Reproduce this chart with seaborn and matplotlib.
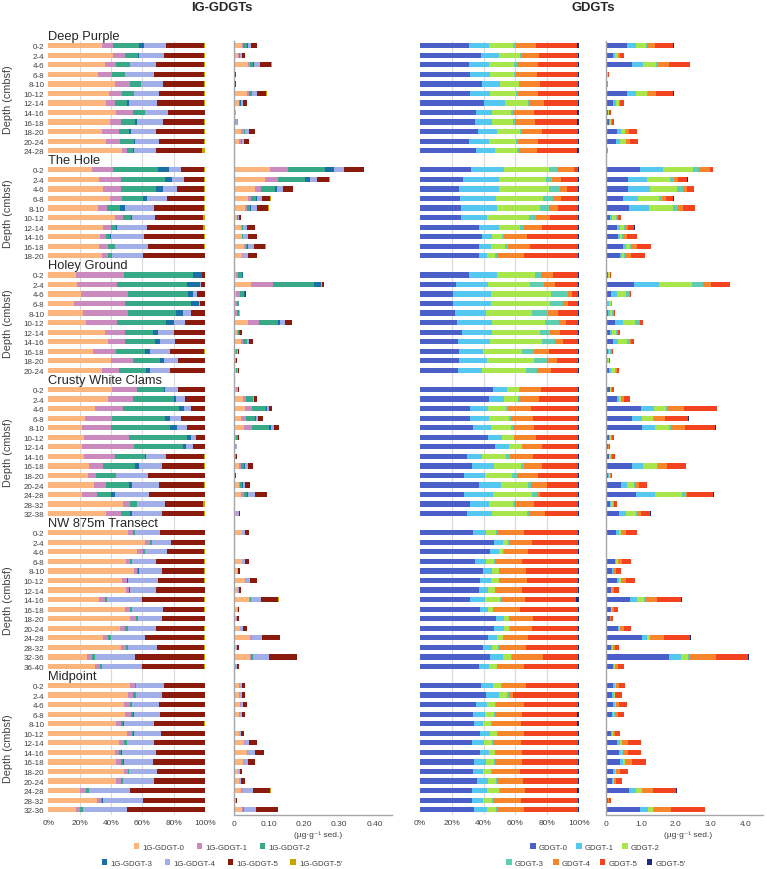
import numpy as np
import matplotlib
matplotlib.use("Agg")
import matplotlib.pyplot as plt
import matplotlib.transforms as mtransforms
from matplotlib.patches import Patch
import seaborn as sns

# ---- data (percent of each compound, plus total in ug/g sed.) ----
IG_NAMES = ["1G-GDGT-0", "1G-GDGT-1", "1G-GDGT-2", "1G-GDGT-3", "1G-GDGT-4", "1G-GDGT-5", "1G-GDGT-5'"]
GD_NAMES = ["GDGT-0", "GDGT-1", "GDGT-2", "GDGT-3", "GDGT-4", "GDGT-5", "GDGT-5'"]
IG_COLORS = ["#FDB57E", "#CB8ABE", "#37A987", "#1A70A5", "#A2AEE8", "#8A1A0C", "#C9A300"]
GD_COLORS = ["#4A60C8", "#55C8F2", "#A8E64B", "#5ECDB1", "#F6852B", "#F4441F", "#1D2C7E"]

DP_DEPTH = ["0-2", "2-4", "4-6", "6-8", "8-10", "10-12", "12-14", "14-16", "16-18", "18-20", "20-24", "24-28"]
DP_IG = [
    [34.0, 7.0, 17.0, 3.0, 14.0, 24.6, 0.4],
    [41.0, 8.0, 8.3, 0.9, 15.5, 25.8, 0.5],
    [36.0, 7.4, 8.5, 0.5, 16.3, 30.7, 0.6],
    [31.5, 9.1, 8.3, 0.3, 18.0, 32.2, 0.6],
    [42.6, 9.5, 6.8, 0.3, 14.0, 26.2, 0.6],
    [38.7, 8.5, 7.5, 0.3, 15.5, 28.9, 0.6],
    [36.8, 5.8, 7.8, 1.1, 18.1, 29.8, 0.6],
    [43.2, 10.6, 7.9, 0.3, 14.2, 23.6, 0.2],
    [39.4, 6.8, 9.1, 1.3, 16.4, 26.6, 0.4],
    [34.0, 11.1, 6.2, 1.3, 16.3, 30.7, 0.4],
    [36.8, 8.9, 9.0, 0.4, 15.5, 29.0, 0.4],
    [47.0, 3.2, 4.1, 0.2, 14.4, 29.4, 1.7],
]
DP_IG_TOT = [0.065, 0.031, 0.107, 0.006, 0.005, 0.093, 0.036, 0.006, 0.010, 0.060, 0.042, 0.002]
DP_GD = [
    [30.8, 12.8, 15.1, 1.5, 12.5, 26.0, 1.3],
    [38.2, 11.7, 13.0, 0.8, 11.1, 24.8, 0.4],
    [30.6, 12.8, 15.9, 1.9, 13.0, 25.4, 0.4],
    [31.7, 12.3, 15.1, 1.5, 12.8, 26.2, 0.4],
    [39.0, 11.3, 11.8, 0.4, 13.2, 23.9, 0.4],
    [31.2, 12.8, 16.2, 1.6, 12.4, 25.4, 0.4],
    [40.5, 13.2, 14.0, 1.1, 9.2, 21.6, 0.4],
    [35.0, 10.3, 11.9, 1.1, 13.2, 27.2, 1.3],
    [34.8, 10.3, 13.6, 1.0, 12.4, 26.6, 1.3],
    [36.5, 11.7, 14.7, 1.5, 12.1, 23.1, 0.4],
    [30.6, 13.0, 16.6, 1.4, 12.4, 25.6, 0.4],
    [35.0, 12.4, 13.4, 1.5, 11.5, 24.7, 1.5],
]
DP_GD_TOT = [1.94, 0.53, 2.42, 0.09, 0.06, 1.94, 0.53, 0.14, 0.23, 0.88, 0.93, 0.06]

HOLE_DEPTH = ["0-2", "2-4", "4-6", "6-8", "8-10", "10-12", "12-14", "14-16", "16-18", "18-20"]
HOLE_IG = [
    [27.9, 13.4, 28.9, 6.6, 7.9, 14.9, 0.4],
    [32.1, 14.1, 28.1, 4.6, 7.5, 13.2, 0.4],
    [34.7, 11.5, 22.5, 4.5, 9.1, 17.3, 0.4],
    [39.1, 7.7, 13.6, 2.6, 13.0, 23.6, 0.4],
    [31.7, 6.0, 8.0, 3.2, 18.5, 31.7, 0.9],
    [42.8, 4.9, 5.3, 0.2, 14.9, 30.6, 1.3],
    [34.9, 5.1, 3.4, 0.2, 19.4, 35.7, 1.3],
    [33.0, 3.6, 3.0, 0.2, 21.5, 38.3, 0.4],
    [32.3, 5.6, 4.7, 0.2, 20.6, 36.2, 0.4],
    [34.0, 3.9, 2.7, 0.2, 19.6, 39.4, 0.2],
]
HOLE_IG_TOT = [0.371, 0.273, 0.169, 0.104, 0.099, 0.020, 0.060, 0.066, 0.090, 0.066]
HOLE_GD = [
    [31.9, 21.1, 28.3, 5.3, 10.5, 2.5, 0.4],
    [26.8, 23.1, 29.1, 3.8, 5.7, 11.1, 0.4],
    [24.5, 25.2, 31.4, 6.7, 4.4, 7.4, 0.4],
    [25.2, 22.4, 30.0, 5.8, 5.3, 10.9, 0.4],
    [26.0, 22.4, 27.3, 5.6, 5.7, 12.6, 0.4],
    [25.6, 16.7, 26.3, 4.6, 8.8, 17.6, 0.4],
    [37.1, 12.6, 13.2, 2.5, 11.1, 23.1, 0.4],
    [39.0, 6.1, 6.3, 1.4, 14.7, 32.1, 0.4],
    [37.1, 7.3, 9.3, 1.6, 14.1, 30.1, 0.6],
    [36.9, 5.2, 5.3, 1.0, 17.0, 34.2, 0.4],
]
HOLE_GD_TOT = [3.07, 2.34, 2.52, 1.94, 2.55, 0.43, 0.82, 0.90, 1.30, 1.11]

HOLEY_DEPTH = ["0-2", "2-4", "4-6", "6-8", "8-10", "10-12", "12-14", "14-16", "16-18", "18-20", "20-24"]
HOLEY_IG = [
    [17.7, 30.6, 44.0, 5.6, 0.4, 1.5, 0.2],
    [18.3, 25.3, 44.9, 8.3, 0.9, 2.1, 0.2],
    [20.6, 30.5, 38.0, 3.2, 2.4, 5.1, 0.2],
    [16.2, 32.9, 41.8, 5.1, 1.0, 2.8, 0.2],
    [22.3, 28.6, 30.4, 4.4, 5.2, 8.9, 0.2],
    [24.3, 19.3, 31.5, 4.9, 7.2, 12.6, 0.2],
    [36.4, 12.7, 17.9, 3.0, 10.4, 19.4, 0.2],
    [37.9, 11.0, 19.4, 2.8, 9.8, 18.9, 0.2],
    [28.5, 14.9, 18.5, 3.2, 12.8, 21.5, 0.6],
    [40.2, 14.1, 17.2, 2.1, 9.2, 17.0, 0.2],
    [34.3, 10.6, 17.2, 2.6, 12.7, 22.4, 0.2],
]
HOLEY_IG_TOT = [0.025, 0.257, 0.033, 0.015, 0.018, 0.165, 0.023, 0.053, 0.013, 0.008, 0.015]
HOLEY_GD = [
    [30.8, 17.6, 24.1, 3.4, 7.7, 16.0, 0.4],
    [22.6, 20.2, 26.2, 9.0, 6.9, 14.7, 0.4],
    [20.5, 23.9, 38.0, 10.5, 2.5, 4.2, 0.4],
    [21.0, 23.7, 37.1, 8.3, 3.2, 6.3, 0.4],
    [22.0, 19.3, 28.9, 10.1, 6.5, 12.8, 0.4],
    [23.3, 22.0, 33.5, 8.4, 4.4, 8.0, 0.4],
    [26.2, 18.9, 30.2, 6.5, 6.3, 11.5, 0.4],
    [24.1, 20.1, 32.7, 8.0, 5.0, 9.7, 0.4],
    [24.5, 15.3, 24.4, 7.3, 9.6, 18.5, 0.4],
    [24.3, 17.8, 29.8, 8.0, 6.5, 13.2, 0.4],
    [23.7, 15.3, 27.7, 7.1, 8.4, 17.4, 0.4],
]
HOLEY_GD_TOT = [0.14, 3.56, 0.71, 0.17, 0.25, 1.07, 0.39, 0.80, 0.20, 0.11, 0.37]

CWC_DEPTH = ["0-2", "2-4", "4-6", "6-8", "8-10", "10-12", "12-14", "14-16", "16-18", "18-20",
             "20-24", "24-28", "28-32", "32-38"]
CWC_IG = [
    [40.6, 16.0, 17.4, 0.7, 8.1, 17.0, 0.2],
    [38.1, 15.7, 26.6, 1.1, 5.7, 12.6, 0.2],
    [29.6, 18.3, 35.5, 3.0, 4.9, 8.5, 0.2],
    [23.2, 17.2, 34.1, 3.2, 7.0, 15.1, 0.2],
    [21.7, 18.5, 37.7, 4.0, 6.8, 11.1, 0.2],
    [22.6, 29.1, 36.8, 2.8, 2.7, 5.8, 0.2],
    [21.5, 33.2, 31.3, 1.9, 4.2, 7.7, 0.2],
    [22.6, 20.0, 18.9, 0.6, 13.0, 24.5, 0.4],
    [26.2, 8.7, 20.4, 2.6, 14.4, 27.3, 0.4],
    [25.3, 5.1, 12.6, 0.2, 20.2, 36.4, 0.2],
    [29.4, 7.2, 14.9, 1.9, 17.2, 29.0, 0.4],
    [21.5, 9.6, 9.1, 2.6, 21.2, 35.8, 0.2],
    [47.9, 4.4, 4.3, 0.2, 17.5, 24.6, 1.1],
    [36.8, 9.8, 5.5, 1.3, 18.9, 27.3, 0.4],
]
CWC_IG_TOT = [0.013, 0.066, 0.108, 0.082, 0.129, 0.013, 0.008, 0.009, 0.054, 0.006,
              0.046, 0.094, 0.003, 0.018]
CWC_GD = [
    [45.9, 9.0, 7.6, 0.4, 13.2, 23.5, 0.4],
    [43.6, 9.2, 8.8, 0.7, 12.3, 25.0, 0.4],
    [31.7, 11.3, 11.3, 1.0, 14.7, 29.6, 0.4],
    [31.7, 11.9, 12.6, 1.2, 13.7, 28.1, 0.8],
    [33.1, 11.6, 12.5, 1.5, 13.2, 27.7, 0.4],
    [43.0, 8.4, 7.5, 0.4, 13.4, 26.9, 0.4],
    [47.2, 8.8, 7.9, 0.5, 12.1, 23.1, 0.4],
    [29.6, 9.6, 14.9, 2.7, 14.5, 28.3, 0.4],
    [32.5, 14.0, 17.0, 1.7, 11.5, 22.9, 0.4],
    [27.7, 13.2, 17.2, 2.9, 13.2, 25.4, 0.4],
    [36.9, 14.0, 17.2, 1.7, 9.9, 19.9, 0.4],
    [27.7, 18.0, 24.7, 3.4, 1.5, 24.3, 0.4],
    [31.7, 11.7, 15.3, 0.8, 12.4, 27.3, 0.8],
    [29.6, 15.9, 21.6, 1.2, 10.1, 21.2, 0.4],
]
CWC_GD_TOT = [0.22, 0.70, 3.18, 2.38, 3.15, 0.22, 0.11, 0.25, 2.29, 0.18, 1.18, 3.09, 0.32, 1.28]

NW_DEPTH = ["0-2", "2-4", "4-6", "6-8", "8-10", "10-12", "12-14", "14-16", "16-18", "18-20",
            "20-24", "24-28", "28-32", "32-36", "36-40"]
NW_IG = [
    [50.9, 3.1, 1.3, 0.2, 15.8, 28.5, 0.2],
    [61.9, 3.0, 1.1, 0.2, 12.1, 21.5, 0.2],
    [56.6, 4.0, 0.9, 0.2, 14.3, 23.6, 0.4],
    [49.4, 2.9, 1.1, 0.2, 15.3, 30.7, 0.4],
    [54.5, 2.3, 0.6, 0.2, 15.0, 27.0, 0.4],
    [47.0, 3.0, 0.4, 0.2, 19.2, 29.8, 0.4],
    [49.6, 1.9, 0.2, 0.2, 16.6, 31.3, 0.2],
    [32.6, 3.6, 1.0, 0.2, 22.2, 40.0, 0.4],
    [48.7, 3.2, 1.5, 0.2, 19.6, 26.4, 0.4],
    [52.3, 3.4, 1.3, 0.2, 15.4, 27.2, 0.2],
    [45.7, 3.2, 1.7, 0.2, 18.1, 30.7, 0.4],
    [35.1, 3.2, 1.5, 0.2, 21.9, 37.7, 0.4],
    [46.4, 3.0, 1.5, 0.2, 18.3, 30.2, 0.4],
    [24.9, 2.8, 2.1, 0.2, 25.3, 44.3, 0.4],
    [29.8, 3.0, 1.5, 0.2, 25.5, 39.6, 0.4],
]
NW_IG_TOT = [0.043, 0.003, 0.002, 0.044, 0.017, 0.066, 0.019, 0.127, 0.015, 0.013,
             0.036, 0.131, 0.013, 0.179, 0.014]
NW_GD = [
    [33.1, 8.4, 6.5, 0.4, 16.8, 33.9, 0.9],
    [46.3, 5.7, 3.3, 0.4, 14.5, 29.4, 0.4],
    [44.2, 5.5, 2.7, 0.2, 15.1, 31.9, 0.4],
    [34.4, 7.1, 5.3, 0.2, 17.2, 35.4, 0.4],
    [39.4, 5.9, 4.2, 0.2, 17.0, 32.9, 0.4],
    [37.7, 7.0, 5.0, 0.2, 17.2, 32.5, 0.4],
    [37.3, 5.5, 4.1, 0.4, 17.0, 35.3, 0.4],
    [31.2, 9.9, 9.2, 0.4, 15.5, 31.7, 2.1],
    [37.9, 5.1, 2.7, 0.4, 16.8, 36.7, 0.4],
    [47.8, 5.0, 3.0, 0.2, 14.8, 28.8, 0.4],
    [46.8, 6.0, 3.4, 0.4, 14.0, 29.0, 0.4],
    [42.8, 5.8, 3.4, 0.4, 15.5, 31.7, 0.4],
    [39.6, 5.9, 3.8, 0.4, 17.0, 32.9, 0.4],
    [44.0, 8.2, 5.2, 0.4, 19.3, 22.5, 0.4],
    [37.3, 6.3, 4.6, 0.4, 16.8, 34.2, 0.4],
]
NW_GD_TOT = [0.90, 0.04, 0.01, 0.72, 0.43, 0.84, 0.37, 2.19, 0.35, 0.21, 0.73, 2.43, 0.38, 4.10, 0.52]

MID_DEPTH = ["0-2", "2-4", "4-6", "6-8", "8-10", "10-12", "12-14", "14-16", "16-18", "18-20",
             "20-24", "24-28", "28-32", "32-36"]
MID_IG = [
    [52.1, 3.0, 0.9, 0.2, 17.4, 26.2, 0.2],
    [50.9, 2.9, 1.9, 0.2, 16.7, 27.2, 0.2],
    [48.3, 3.6, 1.3, 0.2, 17.2, 29.2, 0.2],
    [48.9, 3.9, 1.5, 0.2, 16.6, 28.7, 0.2],
    [43.0, 3.6, 1.3, 0.2, 19.6, 31.9, 0.4],
    [50.2, 3.0, 1.1, 0.2, 17.4, 27.9, 0.2],
    [44.9, 3.2, 1.9, 0.2, 17.5, 32.1, 0.2],
    [42.6, 2.7, 1.3, 0.2, 21.7, 31.3, 0.2],
    [43.2, 3.2, 1.5, 0.2, 18.7, 33.0, 0.2],
    [48.5, 2.1, 0.7, 0.2, 18.1, 30.2, 0.2],
    [43.2, 3.0, 1.5, 0.2, 19.8, 32.1, 0.2],
    [20.2, 3.8, 1.7, 0.2, 26.2, 47.7, 0.2],
    [31.1, 2.5, 0.9, 0.2, 25.5, 39.6, 0.2],
    [17.7, 2.7, 1.7, 0.2, 28.1, 49.4, 0.2],
]
MID_IG_TOT = [0.030, 0.030, 0.037, 0.031, 0.002, 0.028, 0.065, 0.086, 0.059, 0.023,
              0.030, 0.104, 0.008, 0.125]
MID_GD = [
    [38.2, 7.7, 5.3, 0.4, 15.3, 32.7, 0.4],
    [41.3, 8.4, 5.2, 1.3, 2.0, 41.4, 0.4],
    [35.2, 6.9, 5.3, 0.4, 17.4, 34.4, 0.4],
    [33.5, 7.2, 5.8, 0.4, 17.0, 35.0, 1.1],
    [33.8, 6.0, 5.1, 0.4, 18.0, 35.2, 1.5],
    [37.9, 6.3, 4.4, 0.4, 16.6, 34.0, 0.4],
    [32.9, 7.4, 5.2, 0.4, 17.4, 36.3, 0.4],
    [37.5, 5.9, 3.6, 0.4, 16.8, 35.4, 0.4],
    [33.8, 7.7, 5.0, 0.4, 17.3, 35.4, 0.4],
    [33.3, 6.3, 5.1, 0.4, 17.8, 36.7, 0.4],
    [36.1, 6.7, 5.0, 0.4, 16.6, 34.8, 0.4],
    [32.7, 9.6, 7.6, 0.4, 15.7, 32.7, 1.3],
    [32.7, 7.1, 5.5, 0.6, 17.6, 36.1, 0.4],
    [33.8, 8.3, 5.5, 0.6, 17.2, 34.2, 0.4],
]
MID_GD_TOT = [0.54, 0.45, 0.59, 0.52, 0.03, 0.40, 1.00, 1.00, 1.15, 0.64, 0.46, 2.04, 0.14, 2.85]

SITES = [
    ("Deep Purple", DP_DEPTH, DP_IG, DP_IG_TOT, DP_GD, DP_GD_TOT),
    ("The Hole", HOLE_DEPTH, HOLE_IG, HOLE_IG_TOT, HOLE_GD, HOLE_GD_TOT),
    ("Holey Ground", HOLEY_DEPTH, HOLEY_IG, HOLEY_IG_TOT, HOLEY_GD, HOLEY_GD_TOT),
    ("Crusty White Clams", CWC_DEPTH, CWC_IG, CWC_IG_TOT, CWC_GD, CWC_GD_TOT),
    ("NW 875m Transect", NW_DEPTH, NW_IG, NW_IG_TOT, NW_GD, NW_GD_TOT),
    ("Midpoint", MID_DEPTH, MID_IG, MID_IG_TOT, MID_GD, MID_GD_TOT),
]

sns.set_style("white")
plt.rcParams["font.family"] = ["Liberation Sans", "DejaVu Sans"]
TXT = "#404040"

# one slot per depth row, plus one slot for each site name
slots, labels, ig_rows, ig_tot, gd_rows, gd_tot = [], [], [], [], [], []
site_slots = []
s = 0
for name, depths, ig, igt, gd, gdt in SITES:
    site_slots.append((name, s, s + 1, s + len(depths)))
    s += 1
    for i, d in enumerate(depths):
        slots.append(s)
        labels.append(d)
        ig_rows.append(ig[i])
        ig_tot.append(igt[i])
        gd_rows.append(gd[i])
        gd_tot.append(gdt[i])
        s += 1
n_slots = s
slots = np.array(slots, dtype=float)
ig_frac = np.array(ig_rows) / np.array(ig_rows).sum(axis=1, keepdims=True)
gd_frac = np.array(gd_rows) / np.array(gd_rows).sum(axis=1, keepdims=True)

W, H = 767, 870
TOP, BOT = 41.9, 815.5
fig = plt.figure(figsize=(W / 100, H / 100), dpi=100)


def ax_at(x0, x1):
    return fig.add_axes([x0 / W, 1 - BOT / H, (x1 - x0) / W, (BOT - TOP) / H])


def draw_stack(ax, frac, scale, colors):
    cum = np.cumsum(frac, axis=1) * np.asarray(scale)[:, None]
    for k in range(frac.shape[1] - 1, -1, -1):
        sns.barplot(x=cum[:, k], y=slots, orient="h", native_scale=True,
                    color=colors[k], saturation=1, width=0.55, linewidth=0,
                    errorbar=None, ax=ax)
    ax.set_ylim(n_slots - 0.5, 0.5)
    ax.set_xlabel("")
    ax.set_ylabel("")


def style_rel(ax):
    ax.set_xlim(0, 100)
    for v in range(20, 101, 20):
        ax.axvline(v, color="#D9D9D9", lw=0.8, zorder=0)
    ax.set_xticks(range(0, 101, 20))
    ax.set_xticklabels([f"{v}%" for v in range(0, 101, 20)])
    for sp in ax.spines.values():
        sp.set_visible(False)
    ax.tick_params(axis="x", length=0, pad=3, labelsize=6, labelcolor=TXT)
    ax.tick_params(axis="y", length=0)
    ax.set_yticks([])


def style_abs(ax, xmax, step, fmt):
    ax.set_xlim(0, xmax)
    ticks = np.arange(0, xmax + step / 2, step)
    ax.set_xticks(ticks)
    lab = []
    for i, v in enumerate(ticks):
        if i % 2:
            lab.append("")
        else:
            lab.append("0" if i == 0 else fmt.format(v))
    ax.set_xticklabels(lab)
    for sp in ["top", "right"]:
        ax.spines[sp].set_visible(False)
    for sp in ["left", "bottom"]:
        ax.spines[sp].set_color("#A6A6A6")
        ax.spines[sp].set_linewidth(1.0)
    ax.tick_params(axis="x", length=2.5, width=0.8, color="#A6A6A6", pad=1.5,
                   labelsize=6, labelcolor=TXT)
    ax.tick_params(axis="y", length=0, labelleft=False)
    ax.set_yticks([])


ax_ig_rel = ax_at(48.3, 205)
ax_ig_abs = ax_at(234, 392)
ax_gd_rel = ax_at(420, 579)
ax_gd_abs = ax_at(606, 763)

draw_stack(ax_ig_rel, ig_frac, np.full(len(slots), 100.0), IG_COLORS)
draw_stack(ax_ig_abs, ig_frac, ig_tot, IG_COLORS)
draw_stack(ax_gd_rel, gd_frac, np.full(len(slots), 100.0), GD_COLORS)
draw_stack(ax_gd_abs, gd_frac, gd_tot, GD_COLORS)

style_rel(ax_ig_rel)
style_rel(ax_gd_rel)
style_abs(ax_ig_abs, 0.45, 0.05, "{:.2f}")
style_abs(ax_gd_abs, 4.5, 0.5, "{:.1f}")

# depth tick labels on the first panel
ax_ig_rel.set_yticks(slots)
ax_ig_rel.set_yticklabels(labels)
ax_ig_rel.tick_params(axis="y", length=0, pad=3, labelsize=5.8, labelcolor=TXT)
ax_ig_rel.set_ylim(n_slots - 0.5, 0.5)

# site names and per-site depth axis titles
tr_name = mtransforms.blended_transform_factory(ax_ig_rel.transAxes, ax_ig_rel.transData)
tr_lab = mtransforms.blended_transform_factory(fig.transFigure, ax_ig_rel.transData)
for name, s_title, s_first, s_last in site_slots:
    ax_ig_rel.text(0, s_title, name, transform=tr_name, ha="left", va="center",
                   fontsize=9.3, color="#262626", clip_on=False)
    ax_ig_rel.text(8.5 / W, (s_first + s_last) / 2, "Depth (cmbsf)", transform=tr_lab,
                   rotation=90, ha="center", va="center", fontsize=7.8, color=TXT)

# panel titles
fig.text(222 / W, 1 - 8 / H, "IG-GDGTs", ha="center", va="center", fontsize=9.4,
         fontweight="bold", color="#262626")
fig.text(593 / W, 1 - 8 / H, "GDGTs", ha="center", va="center", fontsize=9.4,
         fontweight="bold", color="#262626")

# unit labels
for xc in [318, 688]:
    fig.text(xc / W, 1 - 835 / H, "(\u00b5g\u00b7g\u207b\u00b9 sed.)", ha="center", va="center",
             fontsize=6, color=TXT)


# legends, two rows each
def legend_row(names, colors, xc, yc, colsp):
    handles = [Patch(facecolor=c, edgecolor="none", label=n) for n, c in zip(names, colors)]
    fig.legend(handles=handles, loc="center", bbox_to_anchor=(xc / W, 1 - yc / H),
               ncol=len(handles), frameon=False, fontsize=5.6, handlelength=0.7,
               handleheight=0.7, handletextpad=0.4, columnspacing=colsp,
               labelcolor=TXT, borderpad=0)


legend_row(IG_NAMES[:3], IG_COLORS[:3], 222, 848, 1.6)
legend_row(IG_NAMES[3:], IG_COLORS[3:], 222, 864, 1.6)
legend_row(GD_NAMES[:3], GD_COLORS[:3], 595, 848, 1.1)
legend_row(GD_NAMES[3:], GD_COLORS[3:], 596, 864, 1.2)

fig.savefig("out.png", dpi=100)
